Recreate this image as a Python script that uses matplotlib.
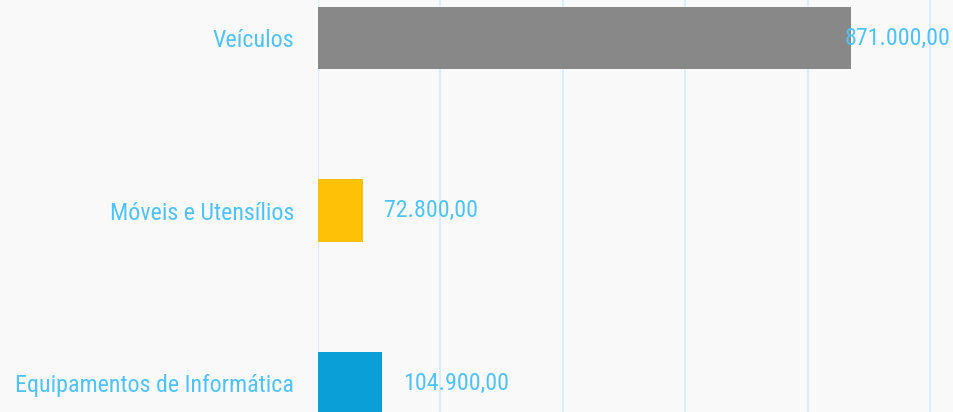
import matplotlib
matplotlib.use("Agg")
import matplotlib.pyplot as plt
from matplotlib import font_manager
import matplotlib.transforms as mtransforms

categories = ["Veículos", "Móveis e Utensílios", "Equipamentos de Informática"]
values = [871000.00, 72800.00, 104900.00]
value_labels = ["871.000,00", "72.800,00", "104.900,00"]
colors = ["#888888", "#FFC107", "#0A9FD6"]
grid_ticks = [0, 200000, 400000, 600000, 800000, 1000000]

W, H = 954, 412
fig = plt.figure(figsize=(W / 100, H / 100), dpi=100)
fig.patch.set_facecolor("#f9f9f9")
left_px = 318
ax = fig.add_axes([left_px / W, 0, (W - left_px) / W, 1])
ax.set_facecolor("#f9f9f9")

names = sorted({f.name for f in font_manager.fontManager.ttflist})
fam = "Roboto Condensed" if "Roboto Condensed" in names else "Roboto"
fs = 17.3

text_color = "#4FC3F7"
ypos = list(range(len(categories)))
ax.barh(ypos, values, height=0.36, color=colors, zorder=2)

px_per_unit = 612 / 1e6
ax.set_xlim(0, (W - left_px) / px_per_unit)
ax.set_ylim((H - 38) / 172.5, -38 / 172.5)

ax.set_xticks(grid_ticks)
ax.xaxis.grid(True, color="#d8eefc", linewidth=1.5, zorder=0)
ax.tick_params(axis="x", length=0, labelbottom=False)
ax.tick_params(axis="y", length=0, pad=17.3)
ax.set_yticks(ypos)
ax.set_yticklabels(categories, color=text_color, fontsize=fs, family=fam)
for s in ax.spines.values():
    s.set_visible(False)

for y, v, lab in zip(ypos, values, value_labels):
    end_px = v * px_per_unit + 21
    if end_px + 110 > (W - left_px):
        ax.text((W - 4 - left_px) / (W - left_px), y, lab,
                transform=mtransforms.blended_transform_factory(ax.transAxes, ax.transData),
                ha="right", va="center", color=text_color, fontsize=fs, family=fam, zorder=3)
    else:
        off = mtransforms.offset_copy(ax.transData, fig=fig, x=21, y=0, units="dots")
        ax.text(v, y, lab, transform=off, ha="left", va="center",
                color=text_color, fontsize=fs, family=fam, zorder=3)

fig.savefig("out.png", dpi=100, facecolor=fig.get_facecolor())
